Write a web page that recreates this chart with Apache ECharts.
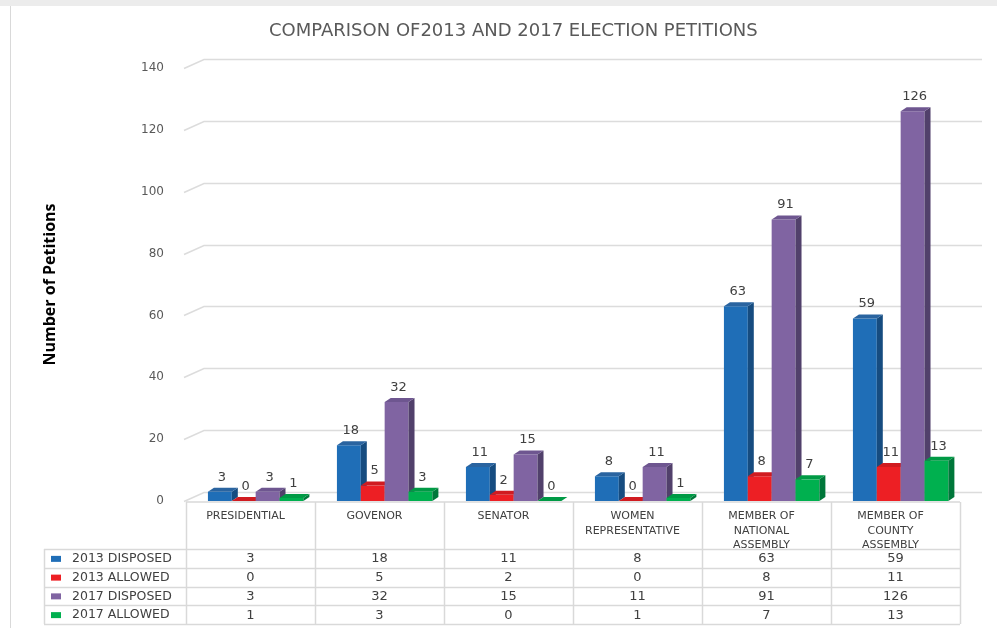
<!DOCTYPE html>
<html>
<head>
<meta charset="utf-8">
<script src="https://cdn.jsdelivr.net/npm/echarts@6/dist/echarts.min.js"></script>
<style>html,body{margin:0;padding:0;background:#fff;}#c{width:997px;height:628px;}</style>
</head>
<body>
<div id="c"></div>
<script>
var titleText = 'COMPARISON OF2013 AND 2017 ELECTION PETITIONS';
var categories = ['PRESIDENTIAL', 'GOVENOR', 'SENATOR', 'WOMEN\nREPRESENTATIVE', 'MEMBER OF\nNATIONAL\nASSEMBLY', 'MEMBER OF\nCOUNTY\nASSEMBLY'];
var seriesNames = ['2013 DISPOSED', '2013 ALLOWED', '2017 DISPOSED', '2017 ALLOWED'];
var disposed2013 = [3, 18, 11, 8, 63, 59];
var allowed2013 = [0, 5, 2, 0, 8, 11];
var disposed2017 = [3, 32, 15, 11, 91, 126];
var allowed2017 = [1, 3, 0, 1, 7, 13];
var yTicks = [0, 20, 40, 60, 80, 100, 120, 140];

var seriesValues = [disposed2013, allowed2013, disposed2017, allowed2017];
var frontColors = ['#1f6eb7', '#ed1f24', '#8064a2', '#00b04f'];
var sideColors = ['#164c80', '#ad171b', '#51406b', '#00773a'];
var topColors = ['#2a64a0', '#d01b20', '#6e5690', '#009a45'];

var FONT = 'DejaVu Sans';
var chart = echarts.init(document.getElementById('c'), null, {renderer: 'canvas'});

function barRender(sIdx) {
  return function (params, api) {
    var cat = api.value(0), v = api.value(1);
    var base = api.coord([cat, 0]);
    var top = api.coord([cat, v]);
    var band = api.size([1, 0])[0];
    var bw = band * 0.185;
    var cx = base[0] + band * 0.04 + (sIdx - 1.5) * bw;
    var x0 = cx - bw / 2, x1 = cx + bw / 2;
    var dx = 6, dy = 4;
    var yb = base[1], yt = top[1];
    return {
      type: 'group',
      children: [
        {type: 'rect', shape: {x: x0, y: yt, width: bw, height: yb - yt}, style: {fill: frontColors[sIdx]}},
        {type: 'polygon', shape: {points: [[x1, yb], [x1, yt], [x1 + dx, yt - dy], [x1 + dx, yb - dy]]}, style: {fill: sideColors[sIdx]}},
        {type: 'polygon', shape: {points: [[x0, yt], [x1, yt], [x1 + dx, yt - dy], [x0 + dx, yt - dy]]}, style: {fill: topColors[sIdx]}},
        {type: 'text', z2: 100, style: {text: String(v), x: cx + 2, y: yt - dy - 4, align: 'center', verticalAlign: 'bottom', fill: '#404040', font: '13px "' + FONT + '"'}}
      ]
    };
  };
}

function gridRender(params, api) {
  var v = api.value(0);
  var p = api.coord([0, v]);
  var cs = params.coordSys;
  var y = Math.round(p[1]) + 0.5;
  var x0 = cs.x - 2;
  return {
    type: 'polyline',
    shape: {points: [[x0, y], [x0 + 20, y - 9], [cs.x + cs.width + 22, y - 9]]},
    style: {stroke: '#dcdcdc', lineWidth: 1.5, fill: null}
  };
}

var series = [{
  type: 'custom',
  name: 'grid',
  renderItem: gridRender,
  data: yTicks.map(function (t) { return [t]; }),
  encode: {y: 0},
  z: 1,
  silent: true
}];
seriesValues.forEach(function (vals, i) {
  series.push({
    type: 'custom',
    name: seriesNames[i],
    renderItem: barRender(i),
    data: vals.map(function (v, j) { return [j, v]; }),
    encode: {x: 0, y: 1},
    z: 2
  });
});

var option = {
  animation: false,
  backgroundColor: '#ffffff',
  title: {
    text: titleText, left: 264, top: 17,
    textStyle: {fontFamily: FONT, fontSize: 18, fontWeight: 'normal', color: '#595959'}
  },
  grid: {left: 186, right: 37, top: 68, bottom: 127},
  xAxis: {
    type: 'category', data: categories,
    axisLine: {show: false}, axisTick: {show: false}, splitLine: {show: false},
    axisLabel: {interval: 0, margin: 8, fontFamily: FONT, fontSize: 11, lineHeight: 14.5, color: '#404040', padding: [0, 10, 0, 0]}
  },
  yAxis: {
    type: 'value', min: 0, max: 140, interval: 20,
    name: 'Number of Petitions', nameLocation: 'middle', nameGap: 128,
    nameTextStyle: {fontFamily: 'Open Sans', fontWeight: 'bold', fontSize: 16, color: '#000'},
    axisLine: {show: false}, axisTick: {show: false}, splitLine: {show: false},
    axisLabel: {margin: 22, fontFamily: FONT, fontSize: 12, color: '#595959'}
  },
  series: series
};
chart.setOption(option);

function buildTable() {
  var c0 = chart.convertToPixel({xAxisIndex: 0}, 0);
  var c1 = chart.convertToPixel({xAxisIndex: 0}, 1);
  var band = c1 - c0;
  var left = c0 - band / 2;
  var right = left + band * categories.length;
  var yTop = chart.convertToPixel({yAxisIndex: 0}, 0) + 1;
  var rowTop = 549, rowH = 18.75;
  var legendLeft = 44;
  var lineStyle = {stroke: '#d9d9d9', lineWidth: 1.5};
  var els = [];
  els.push({type: 'rect', shape: {x: 0, y: 0, width: 997, height: 6}, style: {fill: '#ececec'}, silent: true});
  els.push({type: 'line', shape: {x1: 10.5, y1: 6, x2: 10.5, y2: 628}, style: {stroke: '#d9d9d9', lineWidth: 1}, silent: true});
  els.push({type: 'line', shape: {x1: left, y1: yTop, x2: right, y2: yTop}, style: lineStyle});
  for (var k = 0; k <= categories.length; k++) {
    var x = Math.round(left + band * k) + 0.5;
    els.push({type: 'line', shape: {x1: x, y1: yTop, x2: x, y2: rowTop + rowH * seriesNames.length}, style: lineStyle});
  }
  for (var r = 0; r <= seriesNames.length; r++) {
    var y = Math.round(rowTop + rowH * r) + 0.5;
    els.push({type: 'line', shape: {x1: legendLeft, y1: y, x2: right, y2: y}, style: lineStyle});
  }
  els.push({type: 'line', shape: {x1: legendLeft + 0.5, y1: rowTop, x2: legendLeft + 0.5, y2: rowTop + rowH * seriesNames.length}, style: lineStyle});
  seriesNames.forEach(function (nm, i) {
    var cy = rowTop + rowH * i + rowH / 2 + 0.5;
    els.push({type: 'rect', shape: {x: 51, y: cy - 3, width: 10, height: 6}, style: {fill: frontColors[i]}});
    els.push({type: 'text', style: {text: nm, x: 72, y: cy, align: 'left', verticalAlign: 'middle', fill: '#404040', font: '12.5px "' + FONT + '"'}});
    seriesValues[i].forEach(function (v, j) {
      els.push({type: 'text', style: {text: String(v), x: left + band * (j + 0.5), y: cy, align: 'center', verticalAlign: 'middle', fill: '#404040', font: '13px "' + FONT + '"'}});
    });
  });
  chart.setOption({graphic: {elements: els}});
}
buildTable();
</script>
</body>
</html>
